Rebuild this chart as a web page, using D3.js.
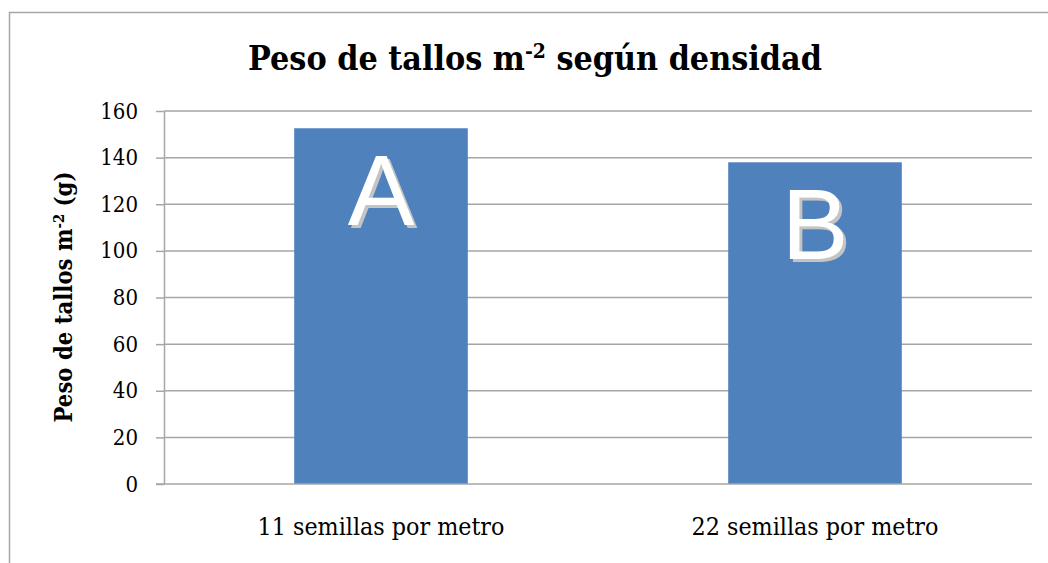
<!DOCTYPE html>
<html lang="es">
    <head>
        <meta charset="utf-8">
        <style>
            body { margin: 0; background: #fff; }
            text { font-family: "DejaVu Serif Condensed", "DejaVu Serif", serif; fill: #000; }
            .grid line { stroke: #a6a6a6; stroke-width: 1.5px; }
            .axis path, .axis line { stroke: #a6a6a6; stroke-width: 1.5px; }
        </style>
        <script src="https://d3js.org/d3.v7.min.js"></script>
        <title>Peso de tallos</title>
    </head>
    <body>
        <div id="chart"></div>
        <script>
            // data
            var categories = ["11 semillas por metro", "22 semillas por metro"];
            var values = [152.6, 138];
            var letters = ["A", "B"];
            var yTicks = [0, 20, 40, 60, 80, 100, 120, 140, 160];

            var W = 1048, H = 563;
            var margin = {top: 111, right: 16, bottom: 79, left: 164},
                width = W - margin.left - margin.right,
                height = H - margin.top - margin.bottom;

            var svg = d3.select("#chart")
                .append("svg")
                    .attr("width", W)
                    .attr("height", H);

            // grey drop shadow for the letters
            svg.append("defs").append("filter")
                .attr("id", "shadow")
                .attr("x", "-20%").attr("y", "-20%")
                .attr("width", "140%").attr("height", "140%")
                .append("feDropShadow")
                    .attr("dx", 3).attr("dy", 3)
                    .attr("stdDeviation", 0.4)
                    .attr("flood-color", "#c4c4c4")
                    .attr("flood-opacity", 1);

            // shrink/grow a text so it spans about the given width
            function fitWidth(sel, target) {
                var fs = parseFloat(sel.style("font-size"));
                var w = sel.node().getComputedTextLength();
                sel.style("font-size", (fs * target / w).toFixed(2) + "px");
            }

            // chart area border
            svg.append("rect")
                .attr("x", 9.5).attr("y", 12.5)
                .attr("width", W + 20).attr("height", H + 20)
                .attr("fill", "none")
                .attr("stroke", "#a6a6a6")
                .attr("stroke-width", 1.5);

            var g = svg.append("g")
                .attr("transform", "translate(" + margin.left + "," + margin.top + ")");

            var x = d3.scaleBand()
                .domain(categories)
                .range([0, width])
                .paddingInner(0.6)
                .paddingOuter(0.3);

            var y = d3.scaleLinear()
                .domain([0, 160])
                .range([height, 0]);

            // gridlines
            g.append("g")
                .attr("class", "grid")
                .selectAll("line")
                .data(yTicks.filter(function(d) { return d > 0; }))
                .enter().append("line")
                    .attr("x1", 0).attr("x2", width)
                    .attr("y1", function(d) { return y(d); })
                    .attr("y2", function(d) { return y(d); });

            // bars
            g.selectAll(".bar")
                .data(values)
                .enter().append("rect")
                    .attr("class", "bar")
                    .attr("x", function(d, i) { return x(categories[i]); })
                    .attr("y", function(d) { return y(d); })
                    .attr("width", x.bandwidth())
                    .attr("height", function(d) { return height - y(d); })
                    .attr("fill", "#4f81bd");

            // y axis
            var yAxis = g.append("g")
                .attr("class", "axis")
                .call(d3.axisLeft(y).tickValues(yTicks).tickSize(8).tickSizeOuter(0));
            yAxis.selectAll("text")
                .attr("x", -26)
                .style("font-size", "22px")
                .attr("fill", "#000")
                .each(function(d) { if (d === 160) fitWidth(d3.select(this), 41); });
            var tickFs = yAxis.select("text:last-of-type").style("font-size");
            yAxis.selectAll("text").style("font-size", tickFs);

            // x axis
            var xAxis = g.append("g")
                .attr("class", "axis")
                .attr("transform", "translate(0," + height + ")")
                .call(d3.axisBottom(x).tickSize(0).tickSizeOuter(0));
            xAxis.select(".domain").attr("d", "M-8,0H" + width);
            xAxis.selectAll("text")
                .attr("y", 33)
                .style("font-size", "19px")
                .attr("fill", "#000")
                .each(function() { fitWidth(d3.select(this), 247); });

            // letters on bars
            g.selectAll(".lab")
                .data(values)
                .enter().append("text")
                    .attr("class", "lab")
                    .attr("x", function(d, i) { return x(categories[i]) + x.bandwidth() / 2; })
                    .attr("y", function(d) { return y(d) + 97; })
                    .attr("text-anchor", "middle")
                    .attr("filter", "url(#shadow)")
                    .style("font-family", "'Liberation Sans', sans-serif")
                    .style("font-size", "100px")
                    .style("fill", "#ffffff")
                    .text(function(d, i) { return letters[i]; });

            // title
            var title = svg.append("text")
                .attr("x", 535)
                .attr("y", 70)
                .attr("text-anchor", "middle")
                .style("font-size", "30px")
                .style("font-weight", "bold");
            title.append("tspan").text("Peso de tallos m");
            title.append("tspan").attr("dy", -12).style("font-size", "0.62em").text("-2");
            title.append("tspan").attr("dy", 12).text(" según densidad");
            fitWidth(title, 574);

            // y axis title
            var ytitle = svg.append("text")
                .attr("transform", "translate(72,297) rotate(-90)")
                .attr("text-anchor", "middle")
                .style("font-size", "20px")
                .style("font-weight", "bold");
            ytitle.append("tspan").text("Peso de tallos m");
            ytitle.append("tspan").attr("dy", -8).style("font-size", "0.62em").text("-2");
            ytitle.append("tspan").attr("dy", 8).text(" (g)");
            fitWidth(ytitle, 251);
        </script>
    </body>
</html>
